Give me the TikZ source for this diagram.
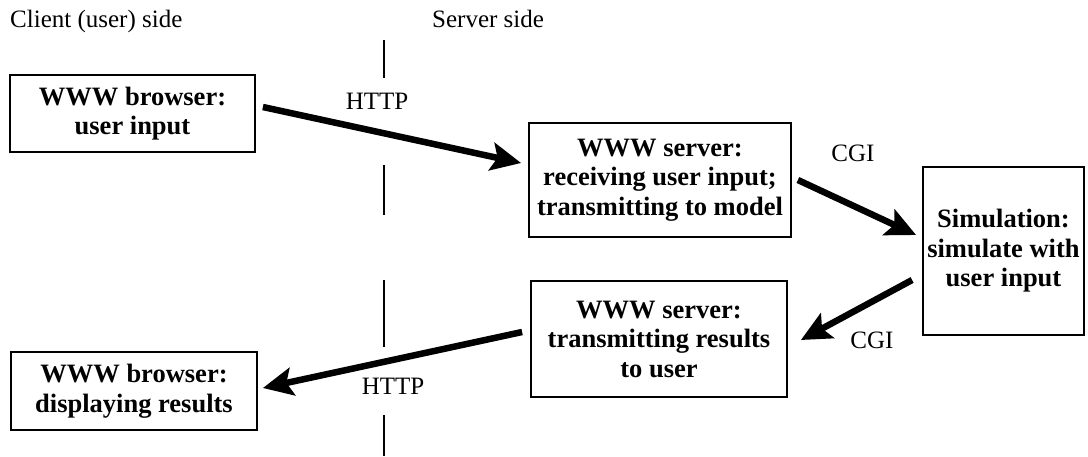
\documentclass[tikz,border=0pt]{standalone}
\usepackage{fontspec}
\setmainfont{Liberation Serif}
\usetikzlibrary{arrows.meta}
\begin{document}
\begin{tikzpicture}[x=1pt,y=-1pt,
  box/.style={draw, line width=1.8pt, inner sep=0pt, align=center, font=\bfseries\fontsize{26.5}{29.5}\selectfont},
  lbl/.style={font=\fontsize{25}{30}\selectfont, inner sep=0pt},
  bigarrow/.style={line width=6.5pt, -{Stealth[length=30pt 0 0,width=28pt 0 0,inset=6pt 0]}},
  divider/.style={line width=1.2pt}]
\fill[white] (0,0) rectangle (1088,456);
\useasboundingbox (0,0) rectangle (1088,456);

% top labels
\node[lbl, anchor=base west] (client) at (10,27) {Client (user) side};
\node[lbl, anchor=base west] (server) at (432,27) {Server side};

% boxes
\node[box, minimum width=245pt, minimum height=77pt] (b1) at (132.5,113.5) {WWW browser:\\user input};
\node[box, minimum width=262pt, minimum height=114pt] (b2) at (660,180) {WWW server:\\receiving user input;\\transmitting to model};
\node[box, minimum width=161pt, minimum height=168pt] (b3) at (1003.5,251) {Simulation:\\simulate with\\user input};
\node[box, minimum width=256pt, minimum height=116pt] (b4) at (659,339) {WWW server:\\transmitting results\\to user};
\node[box, minimum width=246pt, minimum height=78pt] (b5) at (134,391) {WWW browser:\\displaying results};

% divider between client and server
\coordinate (d1) at (384,40);  \coordinate (d2) at (384,78);
\coordinate (d3) at (384,165); \coordinate (d4) at (384,215);
\coordinate (d5) at (384,280); \coordinate (d6) at (384,347);
\coordinate (d7) at (384,415); \coordinate (d8) at (384,456);
\draw[divider] (d1) -- (d2);
\draw[divider] (d3) -- (d4);
\draw[divider] (d5) -- (d6);
\draw[divider] (d7) -- (d8);

% connector labels
\node[lbl] (http1) at (377,101) {HTTP};
\node[lbl] (cgi1) at (853,153) {CGI};
\node[lbl] (cgi2) at (872,340) {CGI};
\node[lbl] (http2) at (393,386) {HTTP};

% connectors
\draw[bigarrow] ([shift={(7,-6.5)}]b1.east) -- ([shift={(-7,-17)}]b2.west);
\draw[bigarrow] ([shift={(6,0)}]b2.east) -- ([shift={(-6,-16)}]b3.west);
\draw[bigarrow] ([shift={(-10,29)}]b3.west) -- ([shift={(13,1)}]b4.east);
\draw[bigarrow] ([shift={(-8,-7)}]b4.west) -- ([shift={(5,-3)}]b5.east);
\end{tikzpicture}
\end{document}
